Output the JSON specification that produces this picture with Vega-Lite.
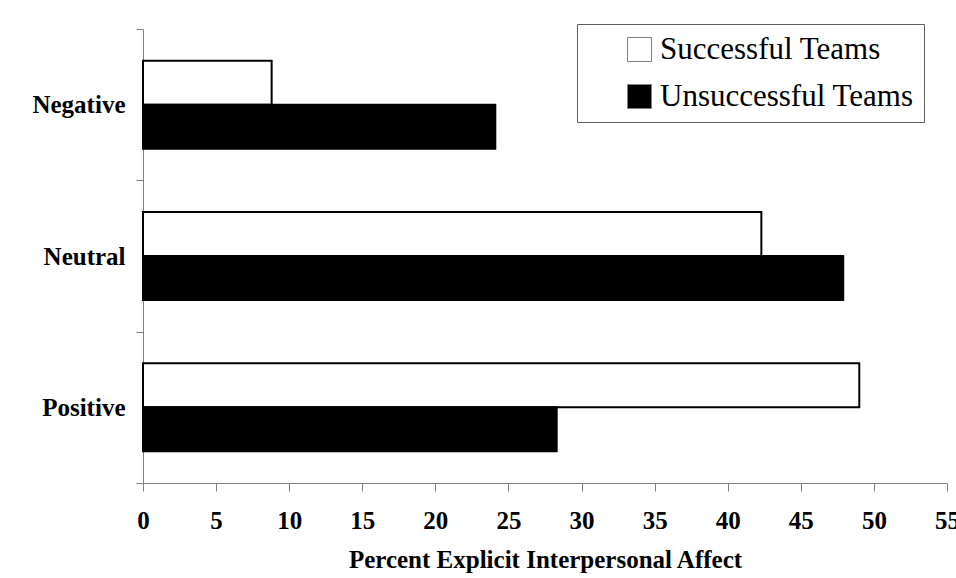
{
  "$schema": "https://vega.github.io/schema/vega-lite/v6.json",
  "width": 804,
  "height": 454,
  "autosize": "none",
  "padding": {"left": 143, "top": 29, "right": 9, "bottom": 95},
  "background": "white",
  "data": {
    "values": [
      {"affect": "Negative", "team": "Successful Teams", "percent": 8.8},
      {"affect": "Negative", "team": "Unsuccessful Teams", "percent": 24.1},
      {"affect": "Neutral", "team": "Successful Teams", "percent": 42.3},
      {"affect": "Neutral", "team": "Unsuccessful Teams", "percent": 47.9},
      {"affect": "Positive", "team": "Successful Teams", "percent": 49.0},
      {"affect": "Positive", "team": "Unsuccessful Teams", "percent": 28.3}
    ]
  },
  "mark": {"type": "bar", "stroke": "black", "strokeWidth": 2, "strokeJoin": "miter"},
  "encoding": {
    "y": {
      "field": "affect",
      "type": "nominal",
      "sort": ["Negative", "Neutral", "Positive"],
      "scale": {"paddingInner": 0, "paddingOuter": 0},
      "axis": {
        "title": null,
        "tickBand": "extent",
        "domainColor": "#808080",
        "tickColor": "#808080",
        "tickSize": 7,
        "labelPadding": 11,
        "labelFont": "Liberation Serif",
        "labelFontSize": 25,
        "labelFontWeight": "bold",
        "labelColor": "black",
        "grid": false
      }
    },
    "yOffset": {
      "field": "team",
      "type": "nominal",
      "sort": ["Successful Teams", "Unsuccessful Teams"],
      "scale": {"paddingInner": 0, "paddingOuter": 0.72}
    },
    "x": {
      "field": "percent",
      "type": "quantitative",
      "scale": {"domain": [0, 55], "nice": false},
      "axis": {
        "title": "Percent Explicit Interpersonal Affect",
        "values": [0, 5, 10, 15, 20, 25, 30, 35, 40, 45, 50, 55],
        "grid": false,
        "domainColor": "#808080",
        "tickColor": "#808080",
        "tickSize": 8,
        "labelPadding": 17,
        "labelFont": "Liberation Serif",
        "labelFontSize": 25,
        "labelFontWeight": "bold",
        "labelColor": "black",
        "labelFlush": false,
        "labelOverlap": false,
        "titleFont": "Liberation Serif",
        "titleFontSize": 25,
        "titleFontWeight": "bold",
        "titleColor": "black",
        "titlePadding": 14
      }
    },
    "fill": {
      "field": "team",
      "type": "nominal",
      "sort": ["Successful Teams", "Unsuccessful Teams"],
      "scale": {"range": ["white", "black"]},
      "legend": {
        "title": null,
        "orient": "none",
        "legendX": 434,
        "legendY": -5,
        "padding": 10,
        "symbolOffset": 37,
        "symbolType": "square",
        "symbolSize": 576,
        "symbolStrokeColor": "#808080",
        "symbolStrokeWidth": 1,
        "labelFont": "Liberation Serif",
        "labelFontSize": 31,
        "labelColor": "black",
        "labelOffset": 5,
        "labelLimit": 400,
        "rowPadding": 15,
        "strokeColor": "#606060",
        "fillColor": "white"
      }
    }
  },
  "config": {
    "font": "Liberation Serif",
    "legend": {"labelFont": "Liberation Serif"},
    "view": {"stroke": null}
  }
}
